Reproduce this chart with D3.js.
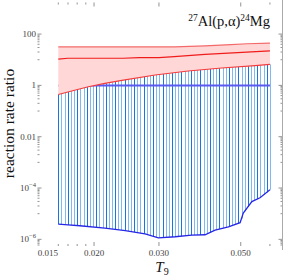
<!DOCTYPE html>
<html lang="en">
<head>
<meta charset="UTF-8">
<title>27Al(p,a)24Mg reaction rate ratio</title>
<script src="https://d3js.org/d3.v7.min.js"></script>
<style>
    body { margin: 0; background: #fff; }
    svg { display: block; font-family: 'Liberation Serif', 'Times New Roman', serif; }
</style>
</head>
<body>
<svg id="chart" width="284" height="278"></svg>
<script>
    // temperatures (T9) and ratio values
    const upperT = [0.016, 0.033, 0.040, 0.047, 0.052, 0.060];
    const upperRed = [31.6, 31.6, 34.6, 38.9, 41.7, 44.2];

    const midT = [0.016, 0.017, 0.024, 0.0265, 0.030, 0.033, 0.040, 0.049, 0.060];
    const midRed = [10.6, 11.4, 11.4, 12.1, 12.1, 13.2, 16.2, 18.9, 22.1];

    const lowT = [0.016, 0.0174, 0.0193, 0.0214, 0.0238, 0.0293, 0.036, 0.0444, 0.0547, 0.060];
    const lowRed = [0.445, 0.604, 0.889, 1.197, 1.567, 2.547, 3.656, 4.786, 5.888, 6.607];

    const blueT = [0.016, 0.017, 0.0183, 0.0214, 0.0243, 0.0275, 0.0299, 0.0332, 0.0368, 0.040,
                   0.0426, 0.0463, 0.0498, 0.0508, 0.0536, 0.0564, 0.060];
    const lowBlue = [3.89e-6, 3.63e-6, 3.39e-6, 2.75e-6, 2.19e-6, 1.62e-6, 1.15e-6, 1.26e-6, 1.45e-6, 1.51e-6,
                     2.29e-6, 3.09e-6, 4.47e-6, 1.05e-5, 2.95e-5, 4.17e-5, 8.51e-5];

    const recT = [0.016, 0.060];
    const recValue = [1, 1];

    const xMajor = [0.02, 0.03, 0.05];
    const xMinor = [0.016, 0.017, 0.018, 0.019, 0.06];
    const xLabels = [0.015, 0.02, 0.03, 0.05];
    const yMajor = [100, 1, 0.01, 1e-4, 1e-6];

    const svg = d3.select("#chart");
    const frameL = 37.5, frameR = 282.5, frameT = 2.5, frameB = 246;

    const x = d3.scaleLog().domain([0.01405, 0.0649]).range([frameL, frameR]);
    const y = d3.scaleLog().domain([5.5e-7, 1700]).range([frameB, frameT]);

    // log-log interpolation of a series at temperature t
    function interp(ts, vs, t) {
        let i = d3.bisectRight(ts, t) - 1;
        i = Math.max(0, Math.min(ts.length - 2, i));
        const f = (Math.log(t) - Math.log(ts[i])) / (Math.log(ts[i + 1]) - Math.log(ts[i]));
        return Math.exp(Math.log(vs[i]) + f * (Math.log(vs[i + 1]) - Math.log(vs[i])));
    }

    // blue hatched band, lower blue bound up to lower red bound
    const x0 = x(0.016), x1 = x(0.06);
    const nLines = 68;
    const hatch = d3.range(nLines).map(i => x0 + i * (x1 - x0) / (nLines - 1));
    svg.append("g").selectAll("line")
        .data(hatch)
        .join("line")
        .attr("x1", d => Math.round(d) + 0.5)
        .attr("x2", d => Math.round(d) + 0.5)
        .attr("y1", d => y(interp(blueT, lowBlue, x.invert(d))))
        .attr("y2", d => y(interp(lowT, lowRed, x.invert(d))))
        .attr("stroke", (d, i) => i % 3 === 0 ? "#1976de" : "#7fb9f0")
        .attr("stroke-width", 1);

    const line = (ts) => d3.line().x((d, i) => x(ts[i])).y(d => y(d));

    // recommended ratio = 1
    svg.append("path")
        .attr("d", line(recT)(recValue))
        .attr("fill", "none")
        .attr("stroke", "#5a5af2")
        .attr("stroke-width", 2);

    // pink band between lower and upper red bounds
    const bandT = d3.sort(Array.from(new Set(upperT.concat(lowT))));
    const area = d3.area()
        .x(d => x(d))
        .y0(d => y(interp(lowT, lowRed, d)))
        .y1(d => y(interp(upperT, upperRed, d)));
    svg.append("path")
        .attr("d", area(bandT))
        .attr("fill", "#ffd7d7");

    svg.append("path").attr("d", line(upperT)(upperRed))
        .attr("fill", "none").attr("stroke", "#f46a6a").attr("stroke-width", 1.1);
    svg.append("path").attr("d", line(midT)(midRed))
        .attr("fill", "none").attr("stroke", "#f01c1c").attr("stroke-width", 1.1);
    svg.append("path").attr("d", line(lowT)(lowRed))
        .attr("fill", "none").attr("stroke", "#f43a3a").attr("stroke-width", 1.1);

    svg.append("path").attr("d", line(blueT)(lowBlue))
        .attr("fill", "none").attr("stroke", "#2626e6").attr("stroke-width", 1.3);

    // frame ticks
    const tickColor = "#777";
    const yMinor = [];
    yMajor.forEach(m => {
        d3.range(1, 10).forEach(k => {
            const v = m / 10 * k;
            if (y(v) <= frameB) yMinor.push(v);
        });
    });
    const ticks = svg.append("g").attr("stroke", tickColor).attr("stroke-width", 0.8);
    [[yMajor, 4], [yMinor, 2]].forEach(([vals, len]) => {
        vals.forEach(v => {
            ticks.append("line").attr("x1", frameL).attr("x2", frameL + len).attr("y1", y(v)).attr("y2", y(v));
            ticks.append("line").attr("x1", frameR).attr("x2", frameR - len).attr("y1", y(v)).attr("y2", y(v));
        });
    });
    [[xMajor, 4], [xMinor, 2]].forEach(([vals, len]) => {
        vals.forEach(v => {
            ticks.append("line").attr("x1", x(v)).attr("x2", x(v)).attr("y1", frameB).attr("y2", frameB - len);
            ticks.append("line").attr("x1", x(v)).attr("x2", x(v)).attr("y1", frameT).attr("y2", frameT + len);
        });
    });
    svg.append("line")
        .attr("x1", frameR).attr("x2", frameR).attr("y1", 0).attr("y2", 250)
        .attr("stroke", "#aaa").attr("stroke-width", 1);

    // tick labels
    const yl = svg.append("g").attr("font-size", 9).attr("fill", "#444").attr("text-anchor", "end");
    yMajor.forEach(v => {
        const t = yl.append("text").attr("x", frameL - 1.5).attr("y", y(v) + 3);
        if (v >= 0.01) {
            t.text(d3.format("~g")(v));
        } else {
            t.append("tspan").text("10");
            t.append("tspan").attr("font-size", 6.5).attr("dy", -4).text("\u2212" + Math.round(-Math.log10(v)));
        }
    });
    svg.append("g").attr("font-size", 9).attr("fill", "#444").attr("text-anchor", "middle")
        .selectAll("text")
        .data(xLabels)
        .join("text")
        .attr("x", d => x(d))
        .attr("y", 256)
        .text(d => d3.format(".3f")(d));

    // title
    const title = svg.append("text").attr("x", 270).attr("y", 26)
        .attr("text-anchor", "end").attr("font-size", 14.5).attr("fill", "#111");
    title.append("tspan").attr("font-size", 9.5).attr("dy", -5).text("27");
    title.append("tspan").attr("dy", 5).text("Al(p,\u03b1)");
    title.append("tspan").attr("font-size", 9.5).attr("dy", -5).text("24");
    title.append("tspan").attr("dy", 5).text("Mg");

    // axis titles
    svg.append("text")
        .attr("transform", "translate(13.5,123.5) rotate(-90)")
        .attr("text-anchor", "middle")
        .attr("font-size", 15.5)
        .attr("fill", "#111")
        .text("reaction rate ratio");

    const xt = svg.append("text").attr("x", 162).attr("y", 271.5)
        .attr("text-anchor", "middle").attr("font-size", 15).attr("fill", "#111");
    xt.append("tspan").attr("font-style", "italic").text("T");
    xt.append("tspan").attr("font-size", 10).attr("dy", 3).text("9");
</script>
</body>
</html>
